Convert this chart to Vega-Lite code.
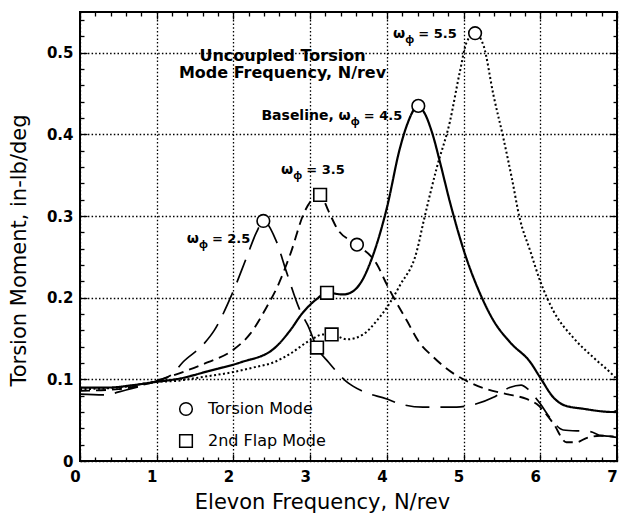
{
 "$schema": "https://vega.github.io/schema/vega-lite/v6.json",
 "width": 537, "height": 449,
 "autosize": "none",
 "padding": {"left": 80, "top": 12, "right": 2, "bottom": 55},
 "background": "white",
 "config": {"view": {"stroke": "black", "strokeWidth": 2}, "font": "DejaVu Sans"},
 "datasets": {
  "curves": [
   {"series":"4.5","x":0,"y":0.090},{"series":"4.5","x":0.37,"y":0.090},{"series":"4.5","x":0.7,"y":0.093},{"series":"4.5","x":1.0,"y":0.097},{"series":"4.5","x":1.3,"y":0.101},{"series":"4.5","x":1.67,"y":0.110},{"series":"4.5","x":2.1,"y":0.121},{"series":"4.5","x":2.52,"y":0.137},{"series":"4.5","x":2.74,"y":0.160},{"series":"4.5","x":2.89,"y":0.180},{"series":"4.5","x":3.08,"y":0.198},{"series":"4.5","x":3.22,"y":0.206},{"series":"4.5","x":3.43,"y":0.204},{"series":"4.5","x":3.56,"y":0.208},{"series":"4.5","x":3.67,"y":0.220},{"series":"4.5","x":3.8,"y":0.247},{"series":"4.5","x":4.0,"y":0.310},{"series":"4.5","x":4.17,"y":0.383},{"series":"4.5","x":4.26,"y":0.411},{"series":"4.5","x":4.41,"y":0.435},{"series":"4.5","x":4.48,"y":0.428},{"series":"4.5","x":4.6,"y":0.399},{"series":"4.5","x":4.69,"y":0.367},{"series":"4.5","x":4.82,"y":0.318},{"series":"4.5","x":5.02,"y":0.253},{"series":"4.5","x":5.22,"y":0.204},{"series":"4.5","x":5.39,"y":0.172},{"series":"4.5","x":5.61,"y":0.145},{"series":"4.5","x":5.87,"y":0.121},{"series":"4.5","x":6.0,"y":0.102},{"series":"4.5","x":6.17,"y":0.078},{"series":"4.5","x":6.32,"y":0.068},{"series":"4.5","x":6.56,"y":0.064},{"series":"4.5","x":6.95,"y":0.060},{"series":"4.5","x":7.0,"y":0.062},
   {"series":"5.5","x":0,"y":0.088},{"series":"5.5","x":0.5,"y":0.090},{"series":"5.5","x":1.0,"y":0.097},{"series":"5.5","x":1.24,"y":0.098},{"series":"5.5","x":1.6,"y":0.103},{"series":"5.5","x":2.0,"y":0.109},{"series":"5.5","x":2.28,"y":0.115},{"series":"5.5","x":2.5,"y":0.120},{"series":"5.5","x":2.75,"y":0.132},{"series":"5.5","x":3.0,"y":0.148},{"series":"5.5","x":3.17,"y":0.155},{"series":"5.5","x":3.28,"y":0.155},{"series":"5.5","x":3.48,"y":0.149},{"series":"5.5","x":3.69,"y":0.155},{"series":"5.5","x":3.87,"y":0.172},{"series":"5.5","x":4.0,"y":0.188},{"series":"5.5","x":4.17,"y":0.215},{"series":"5.5","x":4.39,"y":0.257},{"series":"5.5","x":4.48,"y":0.294},{"series":"5.5","x":4.65,"y":0.359},{"series":"5.5","x":4.82,"y":0.415},{"series":"5.5","x":4.95,"y":0.476},{"series":"5.5","x":5.04,"y":0.513},{"series":"5.5","x":5.15,"y":0.524},{"series":"5.5","x":5.26,"y":0.509},{"series":"5.5","x":5.39,"y":0.448},{"series":"5.5","x":5.52,"y":0.395},{"series":"5.5","x":5.63,"y":0.346},{"series":"5.5","x":5.73,"y":0.298},{"series":"5.5","x":5.87,"y":0.257},{"series":"5.5","x":6.0,"y":0.220},{"series":"5.5","x":6.17,"y":0.184},{"series":"5.5","x":6.43,"y":0.151},{"series":"5.5","x":6.69,"y":0.127},{"series":"5.5","x":6.95,"y":0.105},{"series":"5.5","x":7.0,"y":0.100},
   {"series":"3.5","x":0,"y":0.086},{"series":"3.5","x":0.5,"y":0.088},{"series":"3.5","x":1.0,"y":0.098},{"series":"3.5","x":1.34,"y":0.109},{"series":"3.5","x":1.67,"y":0.121},{"series":"3.5","x":1.98,"y":0.135},{"series":"3.5","x":2.22,"y":0.156},{"series":"3.5","x":2.43,"y":0.188},{"series":"3.5","x":2.59,"y":0.217},{"series":"3.5","x":2.74,"y":0.253},{"series":"3.5","x":2.93,"y":0.306},{"series":"3.5","x":3.13,"y":0.326},{"series":"3.5","x":3.24,"y":0.306},{"series":"3.5","x":3.35,"y":0.285},{"series":"3.5","x":3.61,"y":0.265},{"series":"3.5","x":3.87,"y":0.241},{"series":"3.5","x":4.0,"y":0.216},{"series":"3.5","x":4.09,"y":0.200},{"series":"3.5","x":4.26,"y":0.172},{"series":"3.5","x":4.41,"y":0.147},{"series":"3.5","x":4.61,"y":0.127},{"series":"3.5","x":4.87,"y":0.107},{"series":"3.5","x":5.04,"y":0.098},{"series":"3.5","x":5.3,"y":0.088},{"series":"3.5","x":5.56,"y":0.082},{"series":"3.5","x":5.82,"y":0.076},{"series":"3.5","x":5.95,"y":0.070},{"series":"3.5","x":6.17,"y":0.046},{"series":"3.5","x":6.34,"y":0.023},{"series":"3.5","x":6.47,"y":0.023},{"series":"3.5","x":6.6,"y":0.028},{"series":"3.5","x":6.78,"y":0.031},{"series":"3.5","x":7.0,"y":0.029},
   {"series":"2.5","x":0,"y":0.082},{"series":"2.5","x":0.3,"y":0.081},{"series":"2.5","x":0.6,"y":0.087},{"series":"2.5","x":0.9,"y":0.095},{"series":"2.5","x":1.05,"y":0.100},{"series":"2.5","x":1.2,"y":0.106},{"series":"2.5","x":1.34,"y":0.121},{"series":"2.5","x":1.61,"y":0.143},{"series":"2.5","x":1.75,"y":0.160},{"series":"2.5","x":1.98,"y":0.204},{"series":"2.5","x":2.17,"y":0.249},{"series":"2.5","x":2.3,"y":0.280},{"series":"2.5","x":2.39,"y":0.294},{"series":"2.5","x":2.56,"y":0.269},{"series":"2.5","x":2.69,"y":0.232},{"series":"2.5","x":2.87,"y":0.184},{"series":"2.5","x":2.97,"y":0.166},{"series":"2.5","x":3.09,"y":0.139},{"series":"2.5","x":3.24,"y":0.121},{"series":"2.5","x":3.49,"y":0.096},{"series":"2.5","x":3.67,"y":0.086},{"series":"2.5","x":4.0,"y":0.076},{"series":"2.5","x":4.17,"y":0.070},{"series":"2.5","x":4.47,"y":0.066},{"series":"2.5","x":4.91,"y":0.066},{"series":"2.5","x":5.08,"y":0.068},{"series":"2.5","x":5.39,"y":0.078},{"series":"2.5","x":5.6,"y":0.090},{"series":"2.5","x":5.75,"y":0.093},{"series":"2.5","x":5.85,"y":0.087},{"series":"2.5","x":6.0,"y":0.070},{"series":"2.5","x":6.15,"y":0.050},{"series":"2.5","x":6.3,"y":0.038},{"series":"2.5","x":6.65,"y":0.036},{"series":"2.5","x":6.8,"y":0.031},{"series":"2.5","x":7.0,"y":0.030}
  ],
  "markers": [
   {"mode":"Torsion Mode","x":2.39,"y":0.294},{"mode":"Torsion Mode","x":3.61,"y":0.265},{"mode":"Torsion Mode","x":4.41,"y":0.435},{"mode":"Torsion Mode","x":5.15,"y":0.524},
   {"mode":"2nd Flap Mode","x":3.13,"y":0.326},{"mode":"2nd Flap Mode","x":3.09,"y":0.139},{"mode":"2nd Flap Mode","x":3.22,"y":0.206},{"mode":"2nd Flap Mode","x":3.28,"y":0.155}
  ],
  "heads": [
   {"x":2.64,"y":0.496,"text":"Uncoupled Torsion"},
   {"x":2.64,"y":0.475,"text":"Mode Frequency, N/rev"}
  ],
  "omegas": [
   {"x":3.53,"y":0.422,"pre":"Baseline, ω","sub":"φ","post":"= 4.5"},
   {"x":4.24,"y":0.523,"pre":"ω","sub":"φ","post":"= 5.5"},
   {"x":2.78,"y":0.357,"pre":"ω","sub":"φ","post":"= 3.5"},
   {"x":1.55,"y":0.272,"pre":"ω","sub":"φ","post":"= 2.5"}
  ]
 },
 "layer": [
  {
   "data": {"name": "curves"},
   "mark": {"type": "line", "color": "black", "interpolate": "monotone"},
   "encoding": {
    "x": {"field": "x", "type": "quantitative", "scale": {"domain": [0, 7], "nice": false},
     "axis": {"orient": "bottom",
      "values": [0,0.2,0.4,0.6,0.8,1,1.2,1.4,1.6,1.8,2,2.2,2.4,2.6,2.8,3,3.2,3.4,3.6,3.8,4,4.2,4.4,4.6,4.8,5,5.2,5.4,5.6,5.8,6,6.2,6.4,6.6,6.8,7],
      "labelExpr": "datum.value % 1 === 0 ? format(datum.value, 'd') : ''",
      "grid": true, "gridColor": "black", "gridDash": [1.5, 2.2], "gridWidth": 1.3,
      "gridOpacity": {"condition": {"test": "datum.value % 1 === 0", "value": 1}, "value": 0},
      "tickSize": {"condition": {"test": "datum.value % 1 === 0", "value": -7}, "value": -4},
      "tickColor": "black", "tickWidth": 1.3, "domain": false,
      "labelFont": "DejaVu Sans", "labelFontSize": 15, "labelFontWeight": "bold", "labelColor": "black",
      "labelPadding": 15, "labelOffset": -5, "labelOverlap": false, "labelFlush": false,
      "title": "Elevon Frequency, N/rev", "titleFont": "DejaVu Sans", "titleFontSize": 21, "titleFontWeight": "normal", "titleColor": "black",
      "titleX": 242, "titleY": 47, "titleBaseline": "alphabetic", "titleAlign": "center"}},
    "y": {"field": "y", "type": "quantitative", "scale": {"domain": [0, 0.55], "nice": false},
     "axis": {"orient": "left",
      "values": [0,0.02,0.04,0.06,0.08,0.1,0.12,0.14,0.16,0.18,0.2,0.22,0.24,0.26,0.28,0.3,0.32,0.34,0.36,0.38,0.4,0.42,0.44,0.46,0.48,0.5,0.52,0.54],
      "labelExpr": "abs(datum.value*10 - round(datum.value*10)) < 0.000001 ? format(datum.value, '~g') : ''",
      "grid": true, "gridColor": "black", "gridDash": [1.5, 2.2], "gridWidth": 1.3,
      "gridOpacity": {"condition": {"test": "abs(datum.value*10 - round(datum.value*10)) < 0.000001", "value": 1}, "value": 0},
      "tickSize": {"condition": {"test": "abs(datum.value*10 - round(datum.value*10)) < 0.000001", "value": -7}, "value": -4},
      "tickColor": "black", "tickWidth": 1.3, "domain": false,
      "labelFont": "DejaVu Sans", "labelFontSize": 15, "labelFontWeight": "bold", "labelColor": "black",
      "labelPadding": 14, "labelOverlap": false, "labelFlush": false,
      "title": "Torsion Moment, in-lb/deg", "titleFont": "DejaVu Sans", "titleFontSize": 21, "titleFontWeight": "normal", "titleColor": "black",
      "titleX": -55, "titleY": 238, "titleBaseline": "alphabetic", "titleAlign": "center", "titleAngle": 270}},
    "detail": {"field": "series", "type": "nominal"},
    "strokeDash": {"field": "series", "type": "nominal", "scale": {"domain": ["4.5","5.5","3.5","2.5"], "range": [[1,0],[2,2.5],[10,6],[24,11]]}, "legend": null},
    "strokeWidth": {"field": "series", "type": "nominal", "scale": {"domain": ["4.5","5.5","3.5","2.5"], "range": [2.2,1.7,1.6,1.6]}, "legend": null}
   }
  },
  {
   "data": {"name": "markers"},
   "mark": {"type": "point", "filled": true, "fill": "white", "stroke": "black", "strokeWidth": 1.6, "size": 160, "opacity": 1},
   "encoding": {
    "x": {"field": "x", "type": "quantitative",
     "axis": {"orient": "top",
      "values": [0,0.2,0.4,0.6,0.8,1,1.2,1.4,1.6,1.8,2,2.2,2.4,2.6,2.8,3,3.2,3.4,3.6,3.8,4,4.2,4.4,4.6,4.8,5,5.2,5.4,5.6,5.8,6,6.2,6.4,6.6,6.8,7],
      "labels": false, "grid": false, "domain": false, "title": null,
      "tickSize": {"condition": {"test": "datum.value % 1 === 0", "value": -7}, "value": -4},
      "tickColor": "black", "tickWidth": 1.3}},
    "y": {"field": "y", "type": "quantitative",
     "axis": {"orient": "right",
      "values": [0,0.02,0.04,0.06,0.08,0.1,0.12,0.14,0.16,0.18,0.2,0.22,0.24,0.26,0.28,0.3,0.32,0.34,0.36,0.38,0.4,0.42,0.44,0.46,0.48,0.5,0.52,0.54],
      "labels": false, "grid": false, "domain": false, "title": null,
      "tickSize": {"condition": {"test": "abs(datum.value*10 - round(datum.value*10)) < 0.000001", "value": -7}, "value": -4},
      "tickColor": "black", "tickWidth": 1.3}},
    "shape": {"field": "mode", "type": "nominal", "scale": {"domain": ["Torsion Mode", "2nd Flap Mode"], "range": ["circle", "square"]},
     "legend": {"orient": "none", "legendX": 98, "legendY": 389, "title": null, "padding": 0,
      "symbolSize": 160, "labelFont": "DejaVu Sans", "labelFontSize": 16, "labelColor": "black", "labelOffset": 14, "rowPadding": 12,
      "encode": {"symbols": {"update": {"stroke": {"value": "black"}, "strokeWidth": {"value": 1.6}, "fill": {"value": "white"}, "opacity": {"value": 1}}}}}}
   }
  },
  {
   "data": {"name": "heads"},
   "mark": {"type": "text", "align": "center", "baseline": "middle", "font": "DejaVu Sans", "fontSize": 16, "fontWeight": "bold", "color": "black"},
   "encoding": {
    "x": {"field": "x", "type": "quantitative", "axis": null},
    "y": {"field": "y", "type": "quantitative", "axis": null},
    "text": {"field": "text"}
   }
  },
  {
   "data": {"name": "omegas"},
   "mark": {"type": "text", "align": "right", "baseline": "middle", "font": "DejaVu Sans", "fontSize": 14, "fontWeight": "bold", "color": "black"},
   "encoding": {
    "x": {"field": "x", "type": "quantitative", "axis": null},
    "y": {"field": "y", "type": "quantitative", "axis": null},
    "text": {"field": "pre"}
   }
  },
  {
   "data": {"name": "omegas"},
   "mark": {"type": "text", "align": "left", "baseline": "middle", "dx": 0, "dy": 6, "font": "Noto Sans", "fontSize": 11, "fontWeight": "bold", "color": "black"},
   "encoding": {
    "x": {"field": "x", "type": "quantitative", "axis": null},
    "y": {"field": "y", "type": "quantitative", "axis": null},
    "text": {"field": "sub"}
   }
  },
  {
   "data": {"name": "omegas"},
   "mark": {"type": "text", "align": "left", "baseline": "middle", "dx": 13, "font": "DejaVu Sans", "fontSize": 13, "fontWeight": "bold", "color": "black"},
   "encoding": {
    "x": {"field": "x", "type": "quantitative", "axis": null},
    "y": {"field": "y", "type": "quantitative", "axis": null},
    "text": {"field": "post"}
   }
  }
 ],
 "resolve": {"axis": {"x": "independent", "y": "independent"}}
}
